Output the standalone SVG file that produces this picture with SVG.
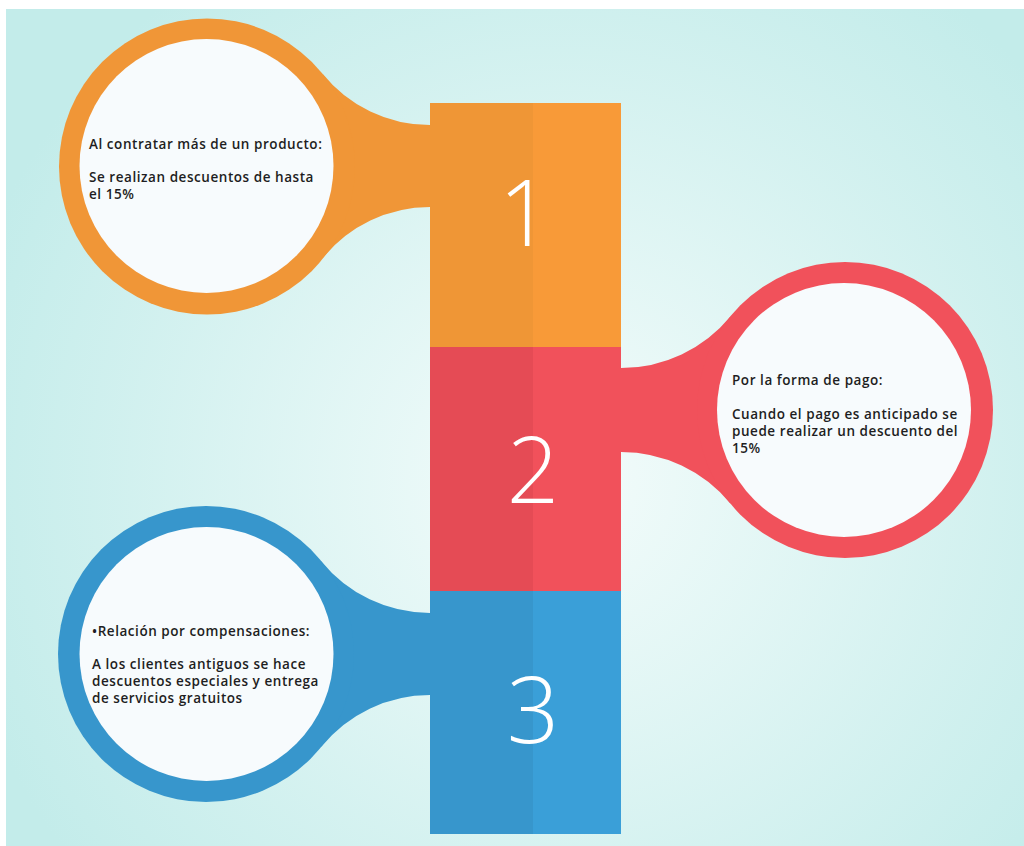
<svg xmlns="http://www.w3.org/2000/svg" width="1024" height="846" viewBox="0 0 1024 846">
<defs>
<radialGradient id="bg" gradientUnits="userSpaceOnUse" cx="560" cy="480" r="620">
<stop offset="0" stop-color="#F4FCFB"/>
<stop offset="1" stop-color="#C3ECEA"/>
</radialGradient>
<style>
.txt{font-family:"Open Sans","Liberation Sans",sans-serif;font-weight:600;font-size:13.5px;letter-spacing:0.55px;fill:#1E1E22}
.num{font-family:"Open Sans","Liberation Sans",sans-serif;font-weight:350;font-size:92px;fill:#FFFFFF}
.inner{fill:#F7FBFD}
.o{fill:#F09637}.oL{fill:#EF9636}.oR{fill:#F89A38}
.r{fill:#F1515B}.rL{fill:#E54B55}.rR{fill:#F1515B}
.b{fill:#3796CC}.bL{fill:#3796CC}.bR{fill:#3A9FD8}
</style>
</defs>
<rect x="0" y="0" width="1024" height="846" fill="#FFFFFF"/>
<rect x="6" y="9" width="1018" height="837" fill="url(#bg)"/>
<g id="connectors">
<path class="o" d="M322.4,73.4 A138,138 0 0 0 430,125 L440,125 L440,207 L430,207 A138,138 0 0 0 322.4,258.6 Z"/>
<path class="r" d="M730.6,316.2 A141.7,141.7 0 0 1 621,368 L611,368 L611,452 L621,452 A141.7,141.7 0 0 1 730.6,503.8 Z"/>
<path class="b" d="M321.1,561 A140,140 0 0 0 430,613 L440,613 L440,695 L430,695 A140,140 0 0 0 321.1,747 Z"/>
</g>
<g id="column">
<rect class="oL" x="430" y="103" width="103" height="244"/>
<rect class="oR" x="533" y="103" width="88" height="244"/>
<rect class="rL" x="430" y="347" width="103" height="244"/>
<rect class="rR" x="533" y="347" width="88" height="244"/>
<rect class="bL" x="430" y="591" width="103" height="243"/>
<rect class="bR" x="533" y="591" width="88" height="243"/>
<text class="num" x="525" y="246" text-anchor="middle">1</text>
<text class="num" x="533" y="503" text-anchor="middle">2</text>
<text class="num" x="533" y="743" text-anchor="middle">3</text>
</g>
<g id="node1">
<circle class="o" cx="207" cy="166.5" r="148"/>
<circle class="inner" cx="206.5" cy="166" r="127"/>
<text class="txt" x="89" y="149">Al contratar más de un producto:</text>
<text class="txt" x="89" y="182">Se realizan descuentos de hasta</text>
<text class="txt" x="89" y="198.5">el 15%</text>
</g>
<g id="node2">
<circle class="r" cx="845" cy="410" r="148"/>
<circle class="inner" cx="844" cy="410" r="127"/>
<text class="txt" x="732" y="385">Por la forma de pago:</text>
<text class="txt" x="732" y="419">Cuando el pago es anticipado se</text>
<text class="txt" x="732" y="436">puede realizar un descuento del</text>
<text class="txt" x="732" y="452.5">15%</text>
</g>
<g id="node3">
<circle class="b" cx="206" cy="654" r="148"/>
<circle class="inner" cx="206.5" cy="654" r="127"/>
<text class="txt" x="92" y="636">•Relación por compensaciones:</text>
<text class="txt" x="92" y="669">A los clientes antiguos se hace</text>
<text class="txt" x="92" y="686">descuentos especiales y entrega</text>
<text class="txt" x="92" y="702.5">de servicios gratuitos</text>
</g>
</svg>
